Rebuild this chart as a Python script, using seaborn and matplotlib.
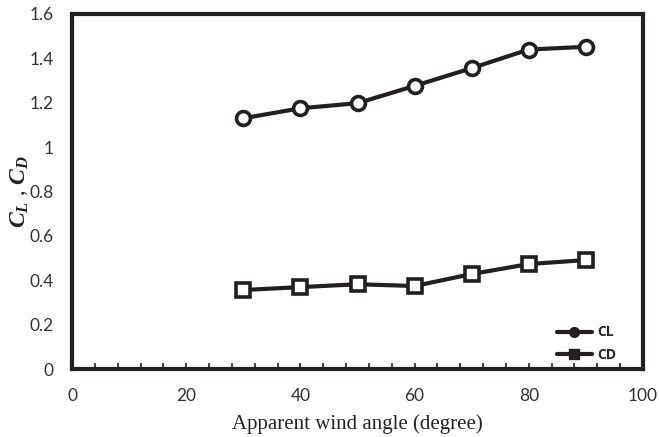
import numpy as np
import pandas as pd
import matplotlib
matplotlib.use("Agg")
import matplotlib.pyplot as plt
from matplotlib.lines import Line2D
from matplotlib.ticker import MultipleLocator
import seaborn as sns

angles = [30, 40, 50, 60, 70, 80, 90]
cl_values = [1.13, 1.175, 1.198, 1.276, 1.356, 1.44, 1.452]
cd_values = [0.356, 0.369, 0.382, 0.374, 0.428, 0.473, 0.491]
series_names = ["CL", "CD"]
y_tick_labels = ["0", "0.2", "0.4", "0.6", "0.8", "1", "1.2", "1.4", "1.6"]

sns.set_theme(style="white")
plt.rcParams["font.family"] = ["Lato", "DejaVu Sans"]
plt.rcParams["mathtext.fontset"] = "custom"
plt.rcParams["mathtext.it"] = "Liberation Serif:italic:bold"
plt.rcParams["mathtext.rm"] = "Liberation Serif:bold"

ink = "#231f20"

df = pd.DataFrame({
    "angle": angles * 2,
    "value": cl_values + cd_values,
    "series": [series_names[0]] * len(angles) + [series_names[1]] * len(angles),
})

fig = plt.figure(figsize=(6.59, 4.37), dpi=100)
ax = fig.add_axes([72 / 659, 1 - 369 / 437, (643 - 72) / 659, (369 - 14) / 437])

for name, mk in zip(series_names, ["o", "s"]):
    sub = df[df["series"] == name]
    sns.lineplot(data=sub, x="angle", y="value", ax=ax, color=ink, lw=3,
                 marker=mk, markersize=10, markerfacecolor="white",
                 markeredgecolor=ink, markeredgewidth=2.6, legend=False)

ax.set_xlim(0, 100)
ax.set_ylim(0, 1.6)
ax.xaxis.set_major_locator(MultipleLocator(20))
ax.xaxis.set_minor_locator(MultipleLocator(4))
ax.set_yticks(np.arange(0, 1.61, 0.2))
ax.set_yticklabels(y_tick_labels)

ax.tick_params(axis="x", which="both", direction="in", bottom=True, length=4,
               width=1.2, color=ink, labelsize=12.5, labelcolor="#333333", pad=14)
ax.tick_params(axis="y", which="both", left=False, length=0, labelsize=12.5,
               labelcolor="#333333", pad=13)

for side in ["top", "right", "bottom", "left"]:
    ax.spines[side].set_color(ink)
    ax.spines[side].set_linewidth(3)

ax.set_xlabel("Apparent wind angle (degree)", family="Liberation Serif",
              fontsize=15, color="#222222", labelpad=7)
ax.set_ylabel(r"$C_L$ , $C_D$", fontsize=17, color="#222222")
ax.yaxis.set_label_coords(-0.073, 0.5)

handles = [
    Line2D([], [], color=ink, lw=3, marker="o", markersize=7, markerfacecolor=ink),
    Line2D([], [], color=ink, lw=3, marker="s", markersize=7, markerfacecolor=ink),
]
leg = ax.legend(handles, series_names, loc="lower right",
                bbox_to_anchor=(0.975, -0.015), frameon=False, handlelength=2.5,
                handletextpad=0.4, labelspacing=0.6,
                prop={"family": "Open Sans", "weight": "bold", "size": 10})

fig.savefig("out.png", dpi=100)
